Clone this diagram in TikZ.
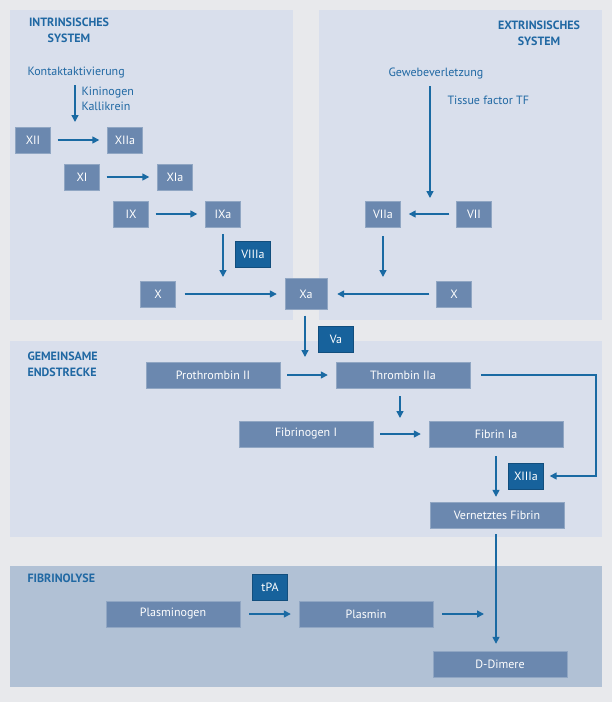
\documentclass[tikz,border=0pt]{standalone}
\usepackage{fontspec}
\setmainfont{PT Sans}
\usetikzlibrary{arrows.meta}

\definecolor{bggray}{HTML}{E8E9EC}
\definecolor{panelblue}{HTML}{D9DFEC}
\definecolor{lysisblue}{HTML}{B1C1D5}
\definecolor{boxblue}{HTML}{6B88AF}
\definecolor{cofactorblue}{HTML}{17629C}
\definecolor{arrowblue}{HTML}{1A6AA3}
\definecolor{titleblue}{HTML}{2068A3}

\tikzset{
  factor/.style={fill=boxblue, draw=boxblue!75!white, text=white, minimum width=35pt,
    minimum height=26pt, inner sep=0pt, font=\fontsize{12}{14}\selectfont},
  widefactor/.style={factor, minimum width=134pt},
  cofactor/.style={factor, fill=cofactorblue, draw=cofactorblue!80!black},
  flow/.style={draw=arrowblue, line width=1.5pt, -{Triangle[length=7pt,width=7pt]},
    shorten <=7pt, shorten >=8pt},
  heading/.style={text=titleblue, font=\bfseries\fontsize{12}{16}\selectfont, align=center},
  note/.style={text=titleblue, font=\fontsize{12}{15}\selectfont, align=left},
}

\begin{document}
\begin{tikzpicture}[x=1pt, y=-1pt]
        % Background and panels
        \fill[bggray] (0,0) rectangle (612,702);
        \useasboundingbox (0,0) rectangle (612,702);
        \fill[panelblue] (10,10) rectangle (293,320);
        \fill[panelblue] (319,10) rectangle (602,320);
        \fill[panelblue] (10,341) rectangle (602,537);
        \fill[lysisblue] (10,566) rectangle (602,687);

        % Headings
        \node[heading] (intrtitle) at (69,30) {INTRINSISCHES\\SYSTEM};
        \node[heading] (extrtitle) at (539,33) {EXTRINSISCHES\\SYSTEM};
        \node[heading, align=left, anchor=west] (commontitle) at (24,364) {GEMEINSAME\\ENDSTRECKE};
        \node[heading, anchor=west] (lysistitle) at (24,578) {FIBRINOLYSE};

        % Intrinsic system
        \node[note, anchor=west] (kontakt) at (24,73) {Kontaktaktivierung};
        \node[note, anchor=west] (kinin) at (78,99) {Kininogen\\Kallikrein};
        \node[factor] (xii) at (33,140) {XII};
        \node[factor] (xiia) at (125,140) {XIIa};
        \node[factor] (xi) at (82,177) {XI};
        \node[factor] (xia) at (175,177) {XIa};
        \node[factor] (ix) at (131,214) {IX};
        \node[factor] (ixa) at (223,214) {IXa};
        \node[cofactor] (viiia) at (253,254) {VIIIa};
        \node[factor] (xleft) at (158,294) {X};
        \node[factor, minimum width=42pt, minimum height=31pt] (xa) at (306,294) {Xa};
        \coordinate (kontaktend) at (75,122);
        \coordinate (ixaend) at (223,277);

        \draw[flow, shorten <=3pt, shorten >=0pt] (kontakt.south -| kontaktend) -- (kontaktend);
        \draw[flow] (xii) -- (xiia);
        \draw[flow] (xi) -- (xia);
        \draw[flow] (ix) -- (ixa);
        \draw[flow, shorten >=0pt] (ixa) -- (ixaend);
        \draw[flow, shorten <=9pt] (xleft) -- (xa);

        % Extrinsic system
        \node[note] (gewebe) at (436,73) {Gewebeverletzung};
        \node[note, anchor=west] (tf) at (444,100) {Tissue factor TF};
        \node[factor] (viia) at (383,214) {VIIa};
        \node[factor] (vii) at (474,214) {VII};
        \node[factor] (xright) at (454,294) {X};
        \coordinate (tfend) at (430,198);
        \coordinate (viiaend) at (383,277);

        \draw[flow, shorten <=4pt, shorten >=0pt] (gewebe.south -| tfend) -- (tfend);
        \draw[flow] (vii) -- (viia);
        \draw[flow, shorten <=9pt, shorten >=0pt] (viia) -- (viiaend);
        \draw[flow, shorten >=10pt] (xright) -- (xa);

        % Common pathway
        \node[cofactor] (va) at (336,339) {Va};
        \node[widefactor] (prothrombin) at (213,375) {Prothrombin II};
        \node[widefactor] (thrombin) at (403,375) {Thrombin IIa};
        \node[widefactor] (fibrinogen) at (306,434) {Fibrinogen I};
        \node[widefactor] (fibrin) at (496,434) {Fibrin Ia};
        \node[cofactor] (xiiia) at (526,476) {XIIIa};
        \node[widefactor] (vernetzt) at (497,515) {Vernetztes Fibrin};
        \coordinate (xaend) at (305,357);
        \coordinate (thrombinend) at (400,418);
        \coordinate (bend) at (596,375);

        \draw[flow, shorten <=6pt, shorten >=0pt] (xa.south -| xaend) -- (xaend);
        \draw[flow] (prothrombin) -- (thrombin);
        \draw[flow, shorten <=8pt, shorten >=0pt] (thrombin.south -| thrombinend) -- (thrombinend);
        \draw[flow] (fibrinogen) -- (fibrin);
        \draw[flow, shorten <=11pt, shorten >=6pt] (thrombin.east) -- (bend) |- (xiiia.east);
        \draw[flow, shorten <=9pt, shorten >=5pt] (fibrin.south) -- (fibrin.south |- vernetzt.north);

        % Fibrinolysis
        \node[cofactor] (tpa) at (270,587) {tPA};
        \node[widefactor] (plasminogen) at (173,614) {Plasminogen};
        \node[widefactor] (plasmin) at (366,614) {Plasmin};
        \node[widefactor] (ddimer) at (500,664) {D-Dimere};
        \coordinate (plasminend) at (484,614);

        \draw[flow, shorten <=9pt] (plasminogen) -- (plasmin);
        \draw[flow, shorten <=9pt, shorten >=0pt] (plasmin) -- (plasminend);
        \draw[flow, shorten <=6pt, shorten >=7pt] (vernetzt.south -| 496,0) -- (ddimer.north -| 496,0);
\end{tikzpicture}
\end{document}
